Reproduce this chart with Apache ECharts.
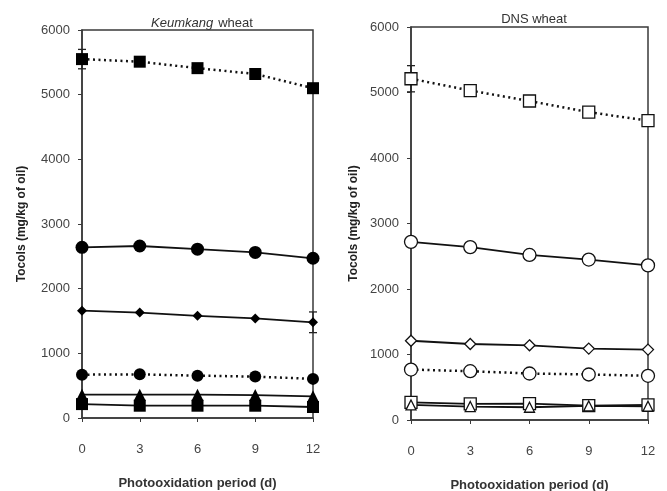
<!DOCTYPE html>
<html>
<head>
<meta charset="utf-8">
<script src="https://cdn.jsdelivr.net/npm/echarts@6/dist/echarts.min.js"></script>
<style>
  html, body { margin: 0; padding: 0; background: #fff; }
  #chart { width: 667px; height: 491px; }
</style>
</head>
<body>
<div id="chart"></div>
<script>
// photooxidation days
var days = ['0', '3', '6', '9', '12'];
var yTicks = [0, 1000, 2000, 3000, 4000, 5000, 6000];

// Keumkang wheat (filled markers)
var kkSqDot = [5550, 5510, 5410, 5320, 5100];
var kkCircle = [2640, 2660, 2610, 2560, 2470];
var kkDiamond = [1660, 1630, 1580, 1540, 1480];
var kkCircleDot = [670, 675, 655, 640, 605];
var kkTriangle = [360, 360, 360, 355, 335];
var kkSquare = [215, 190, 190, 190, 170];
var kkSqDotErr = [150, 0, 0, 0, 0];
var kkDiamondErr = [0, 0, 0, 0, 160];

// DNS wheat (open markers)
var dnsSqDot = [5210, 5030, 4870, 4700, 4570];
var dnsCircle = [2720, 2640, 2520, 2450, 2360];
var dnsDiamond = [1210, 1160, 1140, 1090, 1075];
var dnsCircleDot = [770, 745, 710, 695, 675];
var dnsSquare = [270, 245, 250, 220, 230];
var dnsTriangle = [230, 205, 195, 215, 210];
var dnsSqDotErr = [200, 0, 0, 0, 0];

var font = 'Liberation Sans';
var axisColor = '#3a3a3a';

function xAxisFor(idx) {
    return {
        type: 'category',
        gridIndex: idx,
        data: days,
        boundaryGap: false,
        name: 'Photooxidation period (d)',
        nameLocation: 'middle',
        nameGap: 59,
        nameTextStyle: { fontFamily: font, fontSize: 13, fontWeight: 'bold', color: '#333' },
        axisLine: { lineStyle: { color: axisColor, width: 1.5 } },
        axisTick: { show: true, length: 4, alignWithLabel: true, lineStyle: { color: axisColor } },
        axisLabel: { margin: 25, fontFamily: font, fontSize: 13, color: '#444' },
        splitLine: { show: false }
    };
}

function yAxisFor(idx) {
    return {
        type: 'value',
        gridIndex: idx,
        min: yTicks[0],
        max: yTicks[yTicks.length - 1],
        interval: 1000,
        name: 'Tocols (mg/kg of oil)',
        nameLocation: 'middle',
        nameGap: idx === 0 ? 54 : 51,
        nameTextStyle: { fontFamily: font, fontSize: 12, fontWeight: 'bold', color: '#222' },
        axisLine: { show: true, lineStyle: { color: axisColor, width: 1.5 } },
        axisTick: { show: true, length: 4, lineStyle: { color: axisColor } },
        axisLabel: {
            margin: 12, fontFamily: font, fontSize: 13, color: '#444',
            formatter: function (v) { return String(v); }
        },
        splitLine: { show: false }
    };
}

function lineSeries(idx, data, symbol, size, filled, dotted) {
    return {
        type: 'line',
        xAxisIndex: idx,
        yAxisIndex: idx,
        data: data,
        symbol: symbol,
        symbolSize: size,
        showAllSymbol: true,
        animation: false,
        lineStyle: {
            color: '#111',
            width: dotted ? 2.5 : 1.8,
            type: dotted ? [2, 3.5] : 'solid'
        },
        itemStyle: {
            color: filled ? '#000' : '#fff',
            borderColor: '#111',
            borderWidth: filled ? 0 : 1.3
        },
        z: 3
    };
}

function errorSeries(idx, values, errs) {
    var pts = [];
    values.forEach(function (v, i) {
        if (errs[i] > 0) pts.push([i, v, errs[i]]);
    });
    return {
        type: 'custom',
        xAxisIndex: idx,
        yAxisIndex: idx,
        data: pts,
        animation: false,
        z: 2,
        renderItem: function (params, api) {
            var hi = api.coord([api.value(0), api.value(1) + api.value(2)]);
            var lo = api.coord([api.value(0), api.value(1) - api.value(2)]);
            var w = 4;
            var style = { stroke: '#222', lineWidth: 1.3 };
            return {
                type: 'group',
                children: [
                    { type: 'line', shape: { x1: hi[0], y1: hi[1], x2: lo[0], y2: lo[1] }, style: style },
                    { type: 'line', shape: { x1: hi[0] - w, y1: hi[1], x2: hi[0] + w, y2: hi[1] }, style: style },
                    { type: 'line', shape: { x1: lo[0] - w, y1: lo[1], x2: lo[0] + w, y2: lo[1] }, style: style }
                ]
            };
        }
    };
}

var chart = echarts.init(document.getElementById('chart'));
chart.setOption({
    backgroundColor: '#fff',
    animation: false,
    title: [
        {
            text: '{i|Keumkang} {n|wheat}',
            left: 197, top: 9, textAlign: 'center',
            textStyle: {
                fontWeight: 'normal',
                rich: {
                    i: { fontFamily: font, fontSize: 13, fontStyle: 'italic', fontWeight: 'normal', color: '#333' },
                    n: { fontFamily: font, fontSize: 13, fontWeight: 'normal', color: '#333' }
                }
            }
        },
        {
            text: 'DNS wheat',
            left: 529, top: 8, textAlign: 'center',
            textStyle: { fontFamily: font, fontSize: 13, fontWeight: 'normal', color: '#333' }
        }
    ],
    grid: [
        { left: 82, top: 30, right: 354, bottom: 73, outerBoundsMode: 'none', containLabel: false, show: true, borderColor: axisColor, borderWidth: 1.5 },
        { left: 411, top: 27, right: 19, bottom: 71, outerBoundsMode: 'none', containLabel: false, show: true, borderColor: axisColor, borderWidth: 1.5 }
    ],
    xAxis: [xAxisFor(0), xAxisFor(1)],
    yAxis: [yAxisFor(0), yAxisFor(1)],
    series: [
        errorSeries(0, kkSqDot, kkSqDotErr),
        errorSeries(0, kkDiamond, kkDiamondErr),
        lineSeries(0, kkSqDot, 'rect', 12, true, true),
        lineSeries(0, kkCircle, 'circle', 13, true, false),
        lineSeries(0, kkDiamond, 'diamond', 10, true, false),
        lineSeries(0, kkCircleDot, 'circle', 12, true, true),
        lineSeries(0, kkTriangle, 'triangle', 12, true, false),
        lineSeries(0, kkSquare, 'rect', 12, true, false),

        errorSeries(1, dnsSqDot, dnsSqDotErr),
        lineSeries(1, dnsSqDot, 'rect', 12, false, true),
        lineSeries(1, dnsCircle, 'circle', 13, false, false),
        lineSeries(1, dnsDiamond, 'diamond', 11, false, false),
        lineSeries(1, dnsCircleDot, 'circle', 13, false, true),
        lineSeries(1, dnsSquare, 'rect', 12, false, false),
        lineSeries(1, dnsTriangle, 'triangle', 10, false, false)
    ]
});
</script>
</body>
</html>
